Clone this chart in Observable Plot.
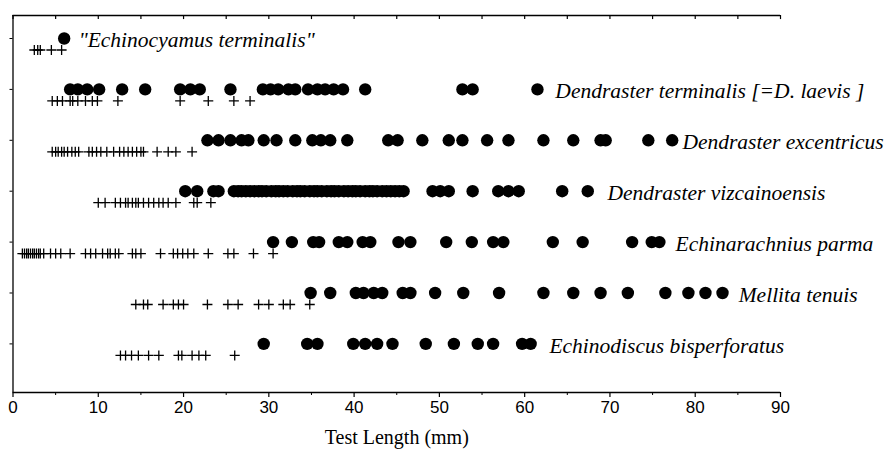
<!DOCTYPE html>
<html><head><meta charset="utf-8">
<script src="https://cdn.jsdelivr.net/npm/d3@7"></script>
<script src="https://cdn.jsdelivr.net/npm/@observablehq/plot@0.6"></script>
<style>body{margin:0;background:#fff}</style>
</head><body><div id="chart"></div>
<script>
// Species (top to bottom) and label text
const species = [
  "\"Echinocyamus terminalis\"",
  "Dendraster terminalis [=D. laevis ]",
  "Dendraster excentricus",
  "Dendraster vizcainoensis",
  "Echinarachnius parma",
  "Mellita tenuis",
  "Echinodiscus bisperforatus"
];
// label start position (mm) per species
const labelX = [7.7, 63.6, 78.5, 69.7, 77.7, 85.1, 62.9];

// Filled circles (test lengths, mm)
const dotsEchinocyamus = [6.0];
const dotsDTerminalis = [6.7, 7.6, 8.7, 10.1, 12.8, 15.5, 19.6, 20.8, 21.9, 25.5, 29.3, 30.2, 31.1, 32.3, 33.1, 34.6, 35.7, 36.6, 37.6, 38.7, 41.3, 52.7, 53.9, 61.5];
const dotsDExcentricus = [22.8, 24.1, 25.5, 26.8, 27.6, 29.4, 30.9, 33.1, 35.1, 36.1, 37.2, 39.2, 44.0, 45.1, 48.0, 51.1, 52.7, 55.6, 58.1, 62.2, 65.7, 68.9, 69.5, 74.5, 77.3];
const dotsDVizcainoensis = [20.2, 21.6, 23.5, 24.1, 25.9, 26.4, 26.8, 27.3, 27.8, 28.3, 28.8, 29.2, 29.7, 30.3, 30.8, 31.2, 31.7, 32.2, 32.8, 33.3, 33.7, 34.2, 34.8, 35.3, 35.7, 36.2, 36.8, 37.3, 37.7, 38.2, 38.8, 39.3, 39.8, 40.2, 40.7, 41.3, 41.8, 42.2, 42.7, 43.3, 43.8, 44.3, 44.8, 45.3, 45.8, 49.2, 50.1, 51.1, 53.9, 56.9, 58.1, 59.3, 64.4, 67.4];
const dotsEParma = [30.5, 32.7, 35.2, 35.9, 38.2, 39.2, 41.0, 41.9, 45.2, 46.6, 50.8, 53.8, 56.3, 57.5, 63.3, 66.8, 72.6, 74.9, 75.8];
const dotsMellita = [34.9, 37.2, 40.2, 41.1, 42.3, 43.3, 45.7, 46.6, 49.5, 52.8, 57.0, 62.2, 65.7, 68.9, 72.1, 76.5, 79.2, 81.2, 83.2];
const dotsEchinodiscus = [29.4, 34.5, 35.7, 39.9, 41.3, 42.7, 44.5, 48.4, 51.7, 54.5, 56.3, 59.7, 60.7];

// Plus marks (test lengths, mm)
const plusEchinocyamus = [2.5, 2.9, 3.2, 4.5, 5.7];
const plusDTerminalis = [4.6, 5.2, 5.8, 6.7, 7.0, 7.6, 8.5, 9.3, 9.9, 12.3, 19.6, 22.9, 25.9, 27.8];
const plusDExcentricus = [4.6, 5.0, 5.3, 5.7, 6.0, 6.4, 6.9, 7.3, 7.7, 8.9, 9.3, 9.8, 10.3, 11.0, 11.8, 12.5, 13.0, 13.5, 14.0, 14.5, 15.0, 15.3, 16.9, 18.2, 19.1, 21.0];
const plusDVizcainoensis = [10.0, 10.8, 12.0, 12.6, 13.2, 13.5, 14.0, 14.4, 14.7, 15.3, 15.9, 16.5, 17.1, 17.6, 18.2, 19.1, 21.2, 21.6, 23.2];
const plusEParma = [1.1, 1.35, 1.6, 1.8, 2.05, 2.3, 2.5, 2.75, 3.0, 3.2, 3.6, 4.4, 5.0, 5.6, 6.7, 8.5, 9.1, 9.7, 10.5, 11.1, 11.4, 12.0, 12.4, 14.0, 14.4, 15.0, 17.3, 18.8, 19.3, 19.9, 20.5, 21.2, 22.9, 25.2, 25.9, 28.2, 30.5];
const plusMellita = [14.4, 15.3, 15.8, 17.6, 18.8, 19.4, 20.0, 22.8, 25.2, 26.4, 28.8, 30.0, 31.7, 32.5, 34.8];
const plusEchinodiscus = [12.6, 13.2, 13.9, 14.7, 15.9, 17.1, 19.4, 19.8, 21.0, 21.8, 22.6, 26.0];

const xTicks = [0, 10, 20, 30, 40, 50, 60, 70, 80, 90];
const xTitle = "Test Length (mm)";

const dotSets = [dotsEchinocyamus, dotsDTerminalis, dotsDExcentricus, dotsDVizcainoensis, dotsEParma, dotsMellita, dotsEchinodiscus];
const plusSets = [plusEchinocyamus, plusDTerminalis, plusDExcentricus, plusDVizcainoensis, plusEParma, plusMellita, plusEchinodiscus];

const dotData = dotSets.flatMap((arr, i) => arr.map(x => ({row: i, x})));
const plusData = plusSets.flatMap((arr, i) => arr.map(x => ({row: i, x})));
const labelData = species.map((s, i) => ({row: i, x: labelX[i], text: s}));

const yTop = -0.452, yBottom = 6.955;
const plusOffset = 0.226;

const plusSymbol = {
  draw(context, size) {
    const r = Math.sqrt(size / Math.PI);
    context.moveTo(-r, 0); context.lineTo(r, 0);
    context.moveTo(0, -r); context.lineTo(0, r);
  }
};

const chart = Plot.plot({
  width: 886,
  height: 449,
  marginLeft: 12.5,
  marginRight: 106,
  marginTop: 15,
  marginBottom: 57,
  style: {fontFamily: "Liberation Sans, Arial, sans-serif", fontSize: "17px", background: "#fff", color: "#000"},
  x: {domain: [0, 90]},
  y: {domain: [yTop, yBottom], reverse: true, axis: null},
  marks: [
    Plot.ruleY([yTop], {x1: 0, x2: 90, stroke: "black", strokeWidth: 1.3}),
    Plot.ruleY([yBottom], {x1: 0, x2: 90, stroke: "black", strokeWidth: 1.3}),
    Plot.ruleX([0], {y1: yTop, y2: yBottom, stroke: "black", strokeWidth: 1.3}),
    Plot.ruleX(d3.range(0, 91, 5), {x: d => d, y1: yTop, y2: yTop + 0.08, stroke: "black", strokeWidth: 1.2}),
    Plot.ruleY(d3.range(0, 7), {y: d => d, x1: -0.35, x2: 0, stroke: "black", strokeWidth: 1}),
    Plot.axisX({ticks: xTicks, tickSize: 5, tickPadding: 3, label: null, stroke: "black", strokeOpacity: 1, strokeWidth: 1.2}),
    Plot.axisX({ticks: d3.range(5, 90, 10), tickSize: 3, text: null, label: null, strokeOpacity: 1}),
    Plot.dot(plusData, {x: "x", y: d => d.row + plusOffset, r: 5, symbol: plusSymbol, stroke: "black", strokeWidth: 1.3, fill: "none"}),
    Plot.dot(dotData, {x: "x", y: "row", r: 6.2, fill: "black", stroke: "none"}),
    Plot.text(labelData, {x: "x", y: "row", text: "text", textAnchor: "start", dy: 2, fontFamily: "Liberation Serif, Times New Roman, serif", fontStyle: "italic", fontSize: 21.5, fill: "black"}),
    Plot.text([xTitle], {x: 45, y: 7.84, text: d => d, fontFamily: "Liberation Serif, Times New Roman, serif", fontSize: 20, fill: "black"})
  ]
});
document.getElementById("chart").appendChild(chart);
</script>
</body></html>
